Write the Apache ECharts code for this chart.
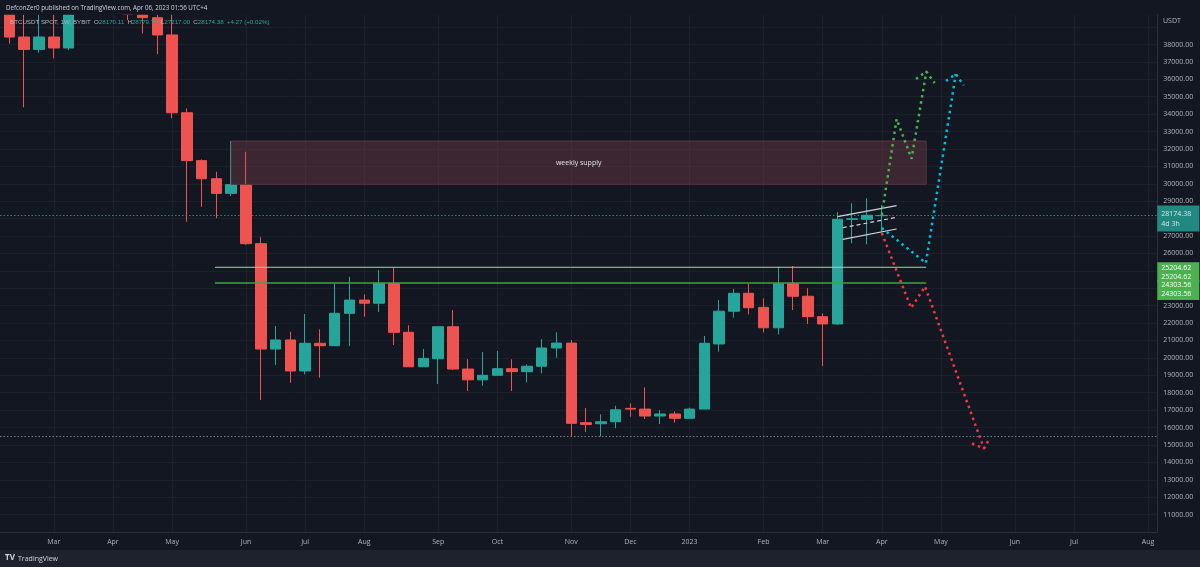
<!DOCTYPE html>
<html>
<head>
<meta charset="utf-8">
<script src="https://cdn.jsdelivr.net/npm/echarts@6/dist/echarts.min.js"></script>
<style>
  html, body { margin: 0; padding: 0; background: #131722; }
  #chart { width: 1200px; height: 567px; }
</style>
</head>
<body>
<div id="chart"></div>
<script>
// BTCUSDT weekly, index 0 = week of 2022-02-14
var opens  = [42060, 38430, 37720, 38430, 37800, 41260, 46820, 46400, 42150, 39720, 39540, 38550, 34080, 31330, 30290, 29450, 29950, 26560, 20510, 21030,
              19250, 20840, 20700, 22560, 23320, 23140, 24280, 21470, 19490, 19950, 21790, 19360, 18740, 19000, 19380, 19210, 19520, 20570, 20850, 16280,
              16220, 16330, 17100, 17060, 16660, 16780, 16530, 17060, 20800, 22680, 23710, 22900, 21730, 24260, 23540, 22370, 21950, 27960, 27960, 28170.11];
var closes = [38430, 37720, 38430, 37800, 41260, 46820, 46400, 42150, 39720, 39540, 38550, 34080, 31330, 30290, 29450, 29950, 26560, 20510, 21030, 19250,
              20840, 20700, 22560, 23320, 23140, 24280, 21470, 19490, 19970, 21790, 19360, 18740, 19000, 19380, 19210, 19520, 20570, 20850, 16240, 16180,
              16330, 17020, 17060, 16660, 16780, 16530, 17060, 20840, 22680, 23710, 22880, 21730, 24260, 23540, 22370, 21950, 27960, 27990, 28190, 28174.38];
var lows   = [38050, 34390, 37530, 37200, 37680, 40500, 45200, 42100, 39400, 38640, 37450, 33760, 27820, 28680, 28020, 29300, 26500, 17580, 19590, 18570,
              19050, 18860, 20700, 20680, 22370, 22640, 20740, 19490, 19490, 18500, 19300, 18100, 18400, 19000, 18100, 18600, 19110, 20010, 15480, 15740,
              15480, 15960, 16620, 16490, 16200, 16280, 16530, 17060, 20360, 22310, 22500, 21470, 21350, 22750, 21950, 19530, 21900, 26580, 26520, 27217.00];
var highs  = [44700, 39800, 45400, 42500, 42300, 47500, 48200, 47450, 42400, 42900, 40700, 40000, 34330, 31400, 30690, 32460, 31840, 26930, 21830, 21500,
              22520, 21640, 24280, 24660, 23650, 25050, 25200, 21870, 20510, 21800, 22750, 19930, 20340, 20390, 19920, 19630, 21070, 21470, 21030, 17120,
              16760, 17250, 17390, 18310, 17000, 16930, 17140, 21260, 23320, 23960, 24280, 23420, 25240, 25280, 24000, 22560, 28380, 28880, 29170, 28779.70];

// time scale labels (week index -> label)
var monthIdx   = [3, 7, 11, 16, 20, 24, 29, 33, 38, 42, 46, 51, 55, 59, 63, 68, 72, 77];
var monthNames = ['Mar', 'Apr', 'May', 'Jun', 'Jul', 'Aug', 'Sep', 'Oct', 'Nov', 'Dec', '2023', 'Feb', 'Mar', 'Apr', 'May', 'Jun', 'Jul', 'Aug'];
var hiddenPriceLabels = [10000, 24000, 25000, 28000, 39000];

// drawings: [week, price]
var supplyZone = [[15, 32457], [62, 29970]];
var levelHigh = [[13.9, 25204.62], [62, 25204.62]];
var levelLow  = [[13.9, 24303.56], [62, 24303.56]];
var channelTop = [[56, 28109], [60, 28741]];
var channelMid = [[56.36, 27477], [60, 28074]];
var channelBot = [[56.36, 26811], [60, 27403]];
var greenPath  = [[59, 28207], [60, 33721], [61.01, 31440], [62.01, 36449]];
var greenHead  = [[61.31, 36018], [62.01, 36449], [62.57, 35789]];
var cyanPath   = [[59, 27460], [61.98, 25449], [64, 36306]];
var cyanHead   = [[63.34, 35903], [64, 36306], [64.54, 35656]];
var redPath    = [[59, 27173], [60.98, 22864], [61.92, 24100], [65.91, 14794]];
var redHead    = [[65.1, 15082], [65.91, 14794], [66.3, 15398]];
var lastPrice = 28174.38;
var rangeLow = 15476;

var UP = '#26a69a', DOWN = '#ef5350', TXT = '#b2b5be', BG = '#131722', GRIDC = '#1c202b', FONT = 'Open Sans';

var candles = opens.map(function (o, i) { return [i, o, closes[i], lows[i], highs[i]]; });

function path(data, color, dash, width) {
  return {
    type: 'line', data: data, symbol: 'none', silent: true, z: 5,
    lineStyle: { color: color, width: width || 2.5, type: dash || [2.5, 3.8], cap: 'butt' }
  };
}

// price box on the right scale
function priceTag(value, text, color, offsetY) {
  return {
    yAxis: value, lineStyle: { color: 'transparent', width: 0 },
    label: { formatter: text, backgroundColor: color, offset: [0, offsetY], padding: [1, 3, 1, 4], lineHeight: 9 }
  };
}

var chart = echarts.init(document.getElementById('chart'));
chart.setOption({
  backgroundColor: BG,
  animation: false,
  textStyle: { fontFamily: FONT },
  grid: { left: 0, right: 42.7, top: 14.7, bottom: 35 },
  xAxis: {
    type: 'value', min: -0.636, max: 77.63,
    axisLine: { show: true, onZero: false, lineStyle: { color: '#2a2e39' } },
    axisTick: { show: false, customValues: monthIdx },
    axisLabel: {
      customValues: monthIdx, color: TXT, fontSize: 7, margin: 6, fontFamily: FONT,
      formatter: function (v) { return monthNames[monthIdx.indexOf(Math.round(v))] || ''; }
    },
    splitLine: { show: false }
  },
  yAxis: {
    type: 'value', position: 'right', min: 10000, max: 39712, interval: 1000,
    axisLine: { show: true, onZero: false, lineStyle: { color: '#2a2e39' } },
    axisTick: { show: false },
    axisLabel: {
      color: TXT, fontSize: 7, margin: 6, fontFamily: FONT,
      formatter: function (v) { return (v % 1000 || hiddenPriceLabels.indexOf(v) >= 0) ? '' : v.toFixed(2); }
    },
    splitLine: { show: true, lineStyle: { color: GRIDC } }
  },
  series: [
    {
      // month grid lines
      type: 'line', data: [], silent: true, z: 0,
      markLine: {
        z: 0, silent: true, symbol: ['none', 'none'], label: { show: false },
        lineStyle: { color: GRIDC, type: 'solid', width: 1 },
        data: monthIdx.map(function (m) { return { xAxis: m }; })
      }
    },
    {
      type: 'candlestick', data: candles, encode: { x: 0, y: [1, 2, 3, 4] },
      barWidth: 11, z: 3, clip: true,
      itemStyle: { color: UP, color0: DOWN, borderColor: UP, borderColor0: DOWN, borderWidth: 1 },
      markArea: {
        z: 4, silent: true,
        itemStyle: { color: 'rgba(178,80,92,0.26)', borderColor: '#5a3340', borderWidth: 1 },
        label: { show: true, position: 'inside', color: '#e0e3eb', fontSize: 7, fontFamily: FONT },
        data: [[{ xAxis: supplyZone[0][0], yAxis: supplyZone[0][1], name: 'weekly supply' },
                { xAxis: supplyZone[1][0], yAxis: supplyZone[1][1] }]]
      },
      markLine: {
        z: 4, silent: true, symbol: ['none', 'none'],
        data: [
          { yAxis: lastPrice, lineStyle: { color: UP, type: [1.5, 2], width: 1, opacity: 0.8 },
            label: { formatter: lastPrice.toFixed(2) + '\n4d 3h', backgroundColor: UP, offset: [0, 3] } },
          { yAxis: rangeLow, lineStyle: { color: '#787b86', type: [1.5, 2], width: 1 }, label: { show: false } },
          priceTag(levelHigh[0][1], levelHigh[0][1].toFixed(2) + '\n' + levelHigh[0][1].toFixed(2), '#4caf50', 5),
          priceTag(levelLow[0][1], levelLow[0][1].toFixed(2) + '\n' + levelLow[0][1].toFixed(2), '#4caf50', 7)
        ],
        label: { position: 'end', distance: 0, color: '#fff', fontSize: 7, fontFamily: FONT, lineHeight: 10, padding: [3, 3, 3, 4], width: 35 }
      }
    },
    path(levelHigh, '#a5d6a7', 'solid', 1),
    path(levelLow, '#43a047', 'solid', 1.6),
    path(channelTop, '#d1d4dc', 'solid', 1.2),
    path(channelMid, '#d1d4dc', [4, 3], 1.2),
    path(channelBot, '#d1d4dc', 'solid', 1.2),
    path(greenPath, '#4caf50'), path(greenHead, '#4caf50'),
    path(cyanPath, '#00bcd4'), path(cyanHead, '#00bcd4'),
    path(redPath, '#f23645'), path(redHead, '#f23645')
  ],
  graphic: [
    { type: 'rect', left: 0, top: 0, z: 90, shape: { width: 1157, height: 14.7 }, style: { fill: BG }, silent: true },
    { type: 'rect', left: 0, top: 550, z: 90, shape: { width: 1200, height: 17 }, style: { fill: '#1e222d' }, silent: true },
    { type: 'text', left: 6, top: 5, z: 100, style: { text: 'DefconZer0 published on TradingView.com, Apr 06, 2023 01:56 UTC+4', fill: '#d1d4dc', fontSize: 6.2, fontFamily: FONT } },
    { type: 'text', left: 10, top: 19.5, z: 100, style: {
        text: '{n|BTCUSDT SPOT, 1W, BYBIT}  {k|O}{v|28170.11}  {k|H}{v|28779.70}  {k|L}{v|27217.00}  {k|C}{v|28174.38}  {v|+4.27 (+0.02%)}',
        fontSize: 6.2, fontFamily: FONT,
        rich: { n: { fill: TXT, fontSize: 6.2 }, k: { fill: TXT, fontSize: 6.2 }, v: { fill: UP, fontSize: 6.2 } } } },
    { type: 'text', left: 1163, top: 17, z: 100, style: { text: 'USDT', fill: TXT, fontSize: 7, fontFamily: FONT } },
    { type: 'text', left: 5, top: 554, z: 100, style: { text: 'TV', fill: '#d1d4dc', fontSize: 8, fontWeight: 'bold', fontFamily: FONT } },
    { type: 'text', left: 18, top: 555, z: 100, style: { text: 'TradingView', fill: '#d1d4dc', fontSize: 7, fontFamily: FONT } }
  ]
});
</script>
</body>
</html>
